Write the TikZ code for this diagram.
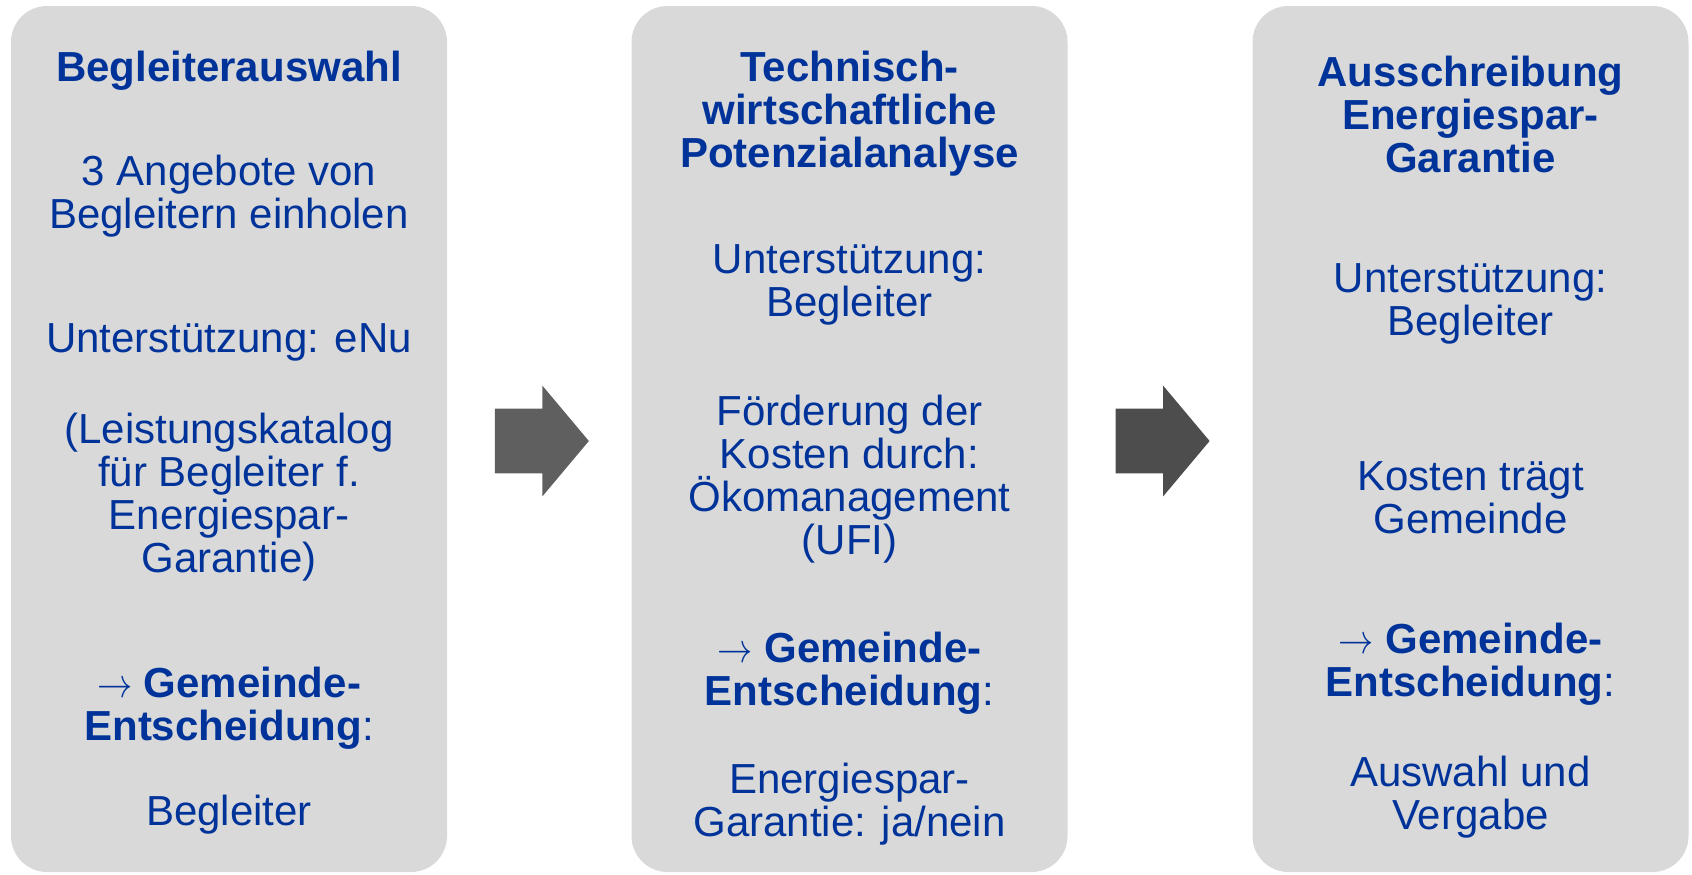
\documentclass[tikz,border=0pt]{standalone}
\usepackage{fontspec}
\setmainfont{Liberation Sans}
\usepackage{xcolor}
\usetikzlibrary{calc,shapes,positioning}

\definecolor{boxgray}{HTML}{D9D9D9}
\definecolor{textblue}{HTML}{003399}
\definecolor{arrowgrayA}{HTML}{5F5F5F}
\definecolor{arrowgrayB}{HTML}{4D4D4D}

\newcommand{\decisionarrow}{\scalebox{0.85}[1]{$\rightarrow$}}

\begin{document}
\begin{tikzpicture}[x=0.5pt,y=-0.5pt]
      \tikzstyle{stage} = [fill=boxgray, rounded corners=18pt, inner sep=0pt, minimum width=218pt, minimum height=433pt]
      \tikzstyle{txt} = [text=textblue, align=center, inner sep=0pt, font=\fontsize{21}{21.5}\selectfont]
      \tikzstyle{ttl} = [txt, font=\fontsize{21}{21.5}\selectfont\bfseries]
      \tikzstyle{flow} = [single arrow, inner sep=0pt, text height=32pt, text depth=0pt, minimum height=47pt, minimum width=55pt, single arrow head extend=11.5pt, single arrow tip angle=100]

      \useasboundingbox (0,0) rectangle (1692,874);

      \node[stage] (stage1) at (229, 439) {};
      \node[stage] (stage2) at (849.5, 439) {};
      \node[stage] (stage3) at (1470.5, 439) {};

      % arrows between the stages
      \node[flow, fill=arrowgrayA] (arrowA) at ($(stage1.east)!0.5!(stage2.west) + (-11,2)$) {};
      \node[flow, fill=arrowgrayB] (arrowB) at ($(stage2.east)!0.5!(stage3.west) + (-11,2)$) {};

      % first stage
      \node[ttl] (title1) at (229, 71) {Begleiterauswahl};
      \node[txt] (offers) at (229, 196) {3 Angebote von\\Begleitern einholen};
      \node[txt] (help1) at (229, 342) {Unterstützung: eNu};
      \node[txt] (catalog) at (229, 497) {(Leistungskatalog\\für Begleiter f.\\Energiespar-\\Garantie)};
      \node[txt] (decide1) at (229, 708) {\decisionarrow{} \textbf{Gemeinde-}\\\textbf{Entscheidung}:};
      \node[txt] (result1) at (229, 815) {Begleiter};

      % second stage
      \node[ttl] (title2) at (849.5, 114) {Technisch-\\wirtschaftliche\\Potenzialanalyse};
      \node[txt] (help2) at (849.5, 285) {Unterstützung:\\Begleiter};
      \node[txt] (funding) at (849.5, 479) {Förderung der\\Kosten durch:\\Ökomanagement\\(UFI)};
      \node[txt] (decide2) at (849.5, 673) {\decisionarrow{} \textbf{Gemeinde-}\\\textbf{Entscheidung}:};
      \node[txt] (result2) at (849.5, 804) {Energiespar-\\Garantie: ja/nein};

      % third stage
      \node[ttl] (title3) at (1470.5, 114) {Ausschreibung\\Energiespar-\\Garantie};
      \node[txt] (help3) at (1470.5, 304) {Unterstützung:\\Begleiter};
      \node[txt] (costs) at (1470.5, 498) {Kosten trägt\\Gemeinde};
      \node[txt] (decide3) at (1470.5, 664) {\decisionarrow{} \textbf{Gemeinde-}\\\textbf{Entscheidung}:};
      \node[txt] (result3) at (1470.5, 797) {Auswahl und\\Vergabe};
\end{tikzpicture}
\end{document}
